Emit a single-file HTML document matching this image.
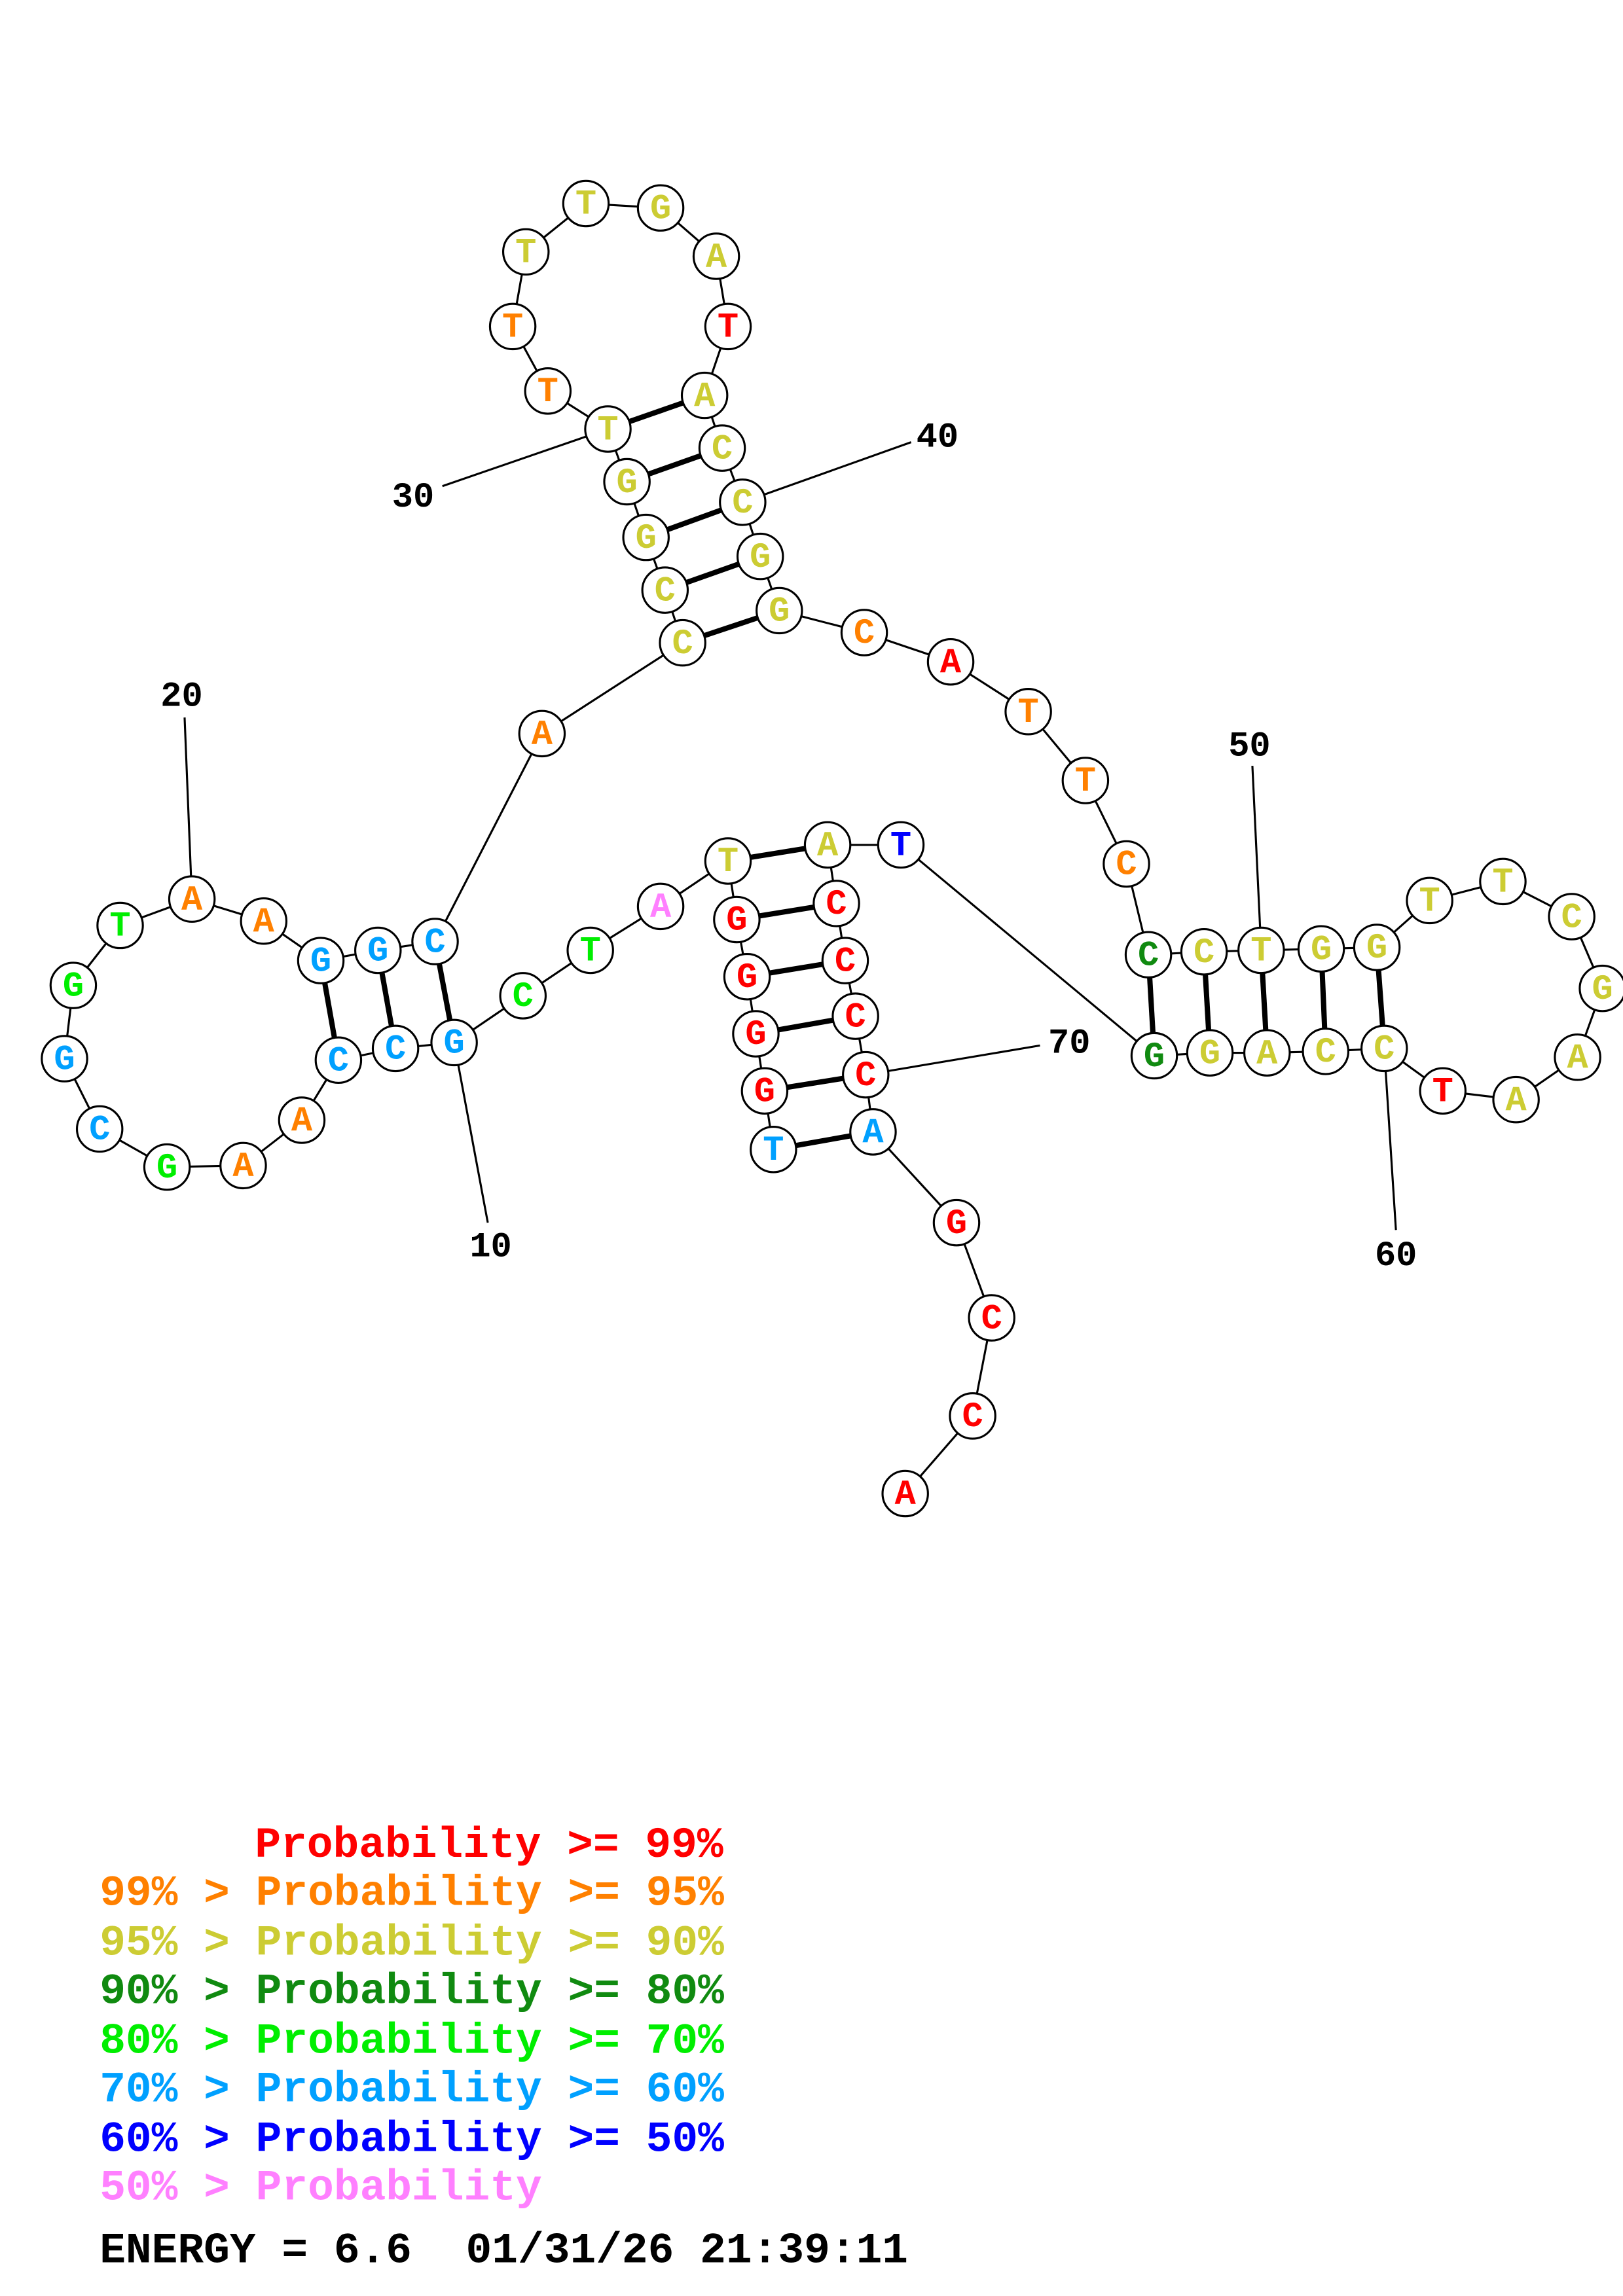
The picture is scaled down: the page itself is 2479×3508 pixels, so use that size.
<!DOCTYPE html>
<html><head><meta charset="utf-8"><style>
html,body{margin:0;padding:0;background:#fff}
svg{display:block}
.n text{font-family:"Liberation Mono",monospace;font-weight:bold;font-size:24px;text-anchor:middle;dominant-baseline:central}
.lab{font-family:"Liberation Mono",monospace;font-weight:bold;font-size:24px;text-anchor:middle;dominant-baseline:central;fill:#000}
.leg{font-family:"Liberation Mono",monospace;font-weight:bold;font-size:29.6px;white-space:pre}
</style></head><body>
<svg width="2479" height="3508" viewBox="0 0 1108 1568" xmlns="http://www.w3.org/2000/svg">
<g stroke="#000" stroke-width="1.4" fill="none">
<polyline points="528,785 522,745 516,706 510,667 503,628 497,588 451,619 403,649 357,680 310,712 270,716 231,724 206,765 166,796 114,797 68,771 44,723 50,673 82,632 131,614 180,629 219,656 258,649 297,643 370,501 466,439 454,403 441,367 428,329 415,293 374,267 350,223 359,172 400,139 451,142 489,175 497,223 481,270 493,306 507,343 519,380 532,417 590,432 649,452 702,486 741,533 769,590 784,652 822,650 861,649 902,648 940,647 976,615 1026,602 1073,626 1094,675 1077,722 1035,751 985,745 945,716 905,718 865,719 826,719 788,721 615,577 565,577 571,617 577,656 584,694 591,734 596,773 653,835 677,900 664,967 618,1020"/>
<line x1="310" y1="712" x2="333" y2="835"/>
<line x1="131" y1="614" x2="126" y2="490"/>
<line x1="415" y1="293" x2="302" y2="332"/>
<line x1="507" y1="343" x2="622" y2="302"/>
<line x1="861" y1="649" x2="855" y2="523"/>
<line x1="945" y1="716" x2="953" y2="840"/>
<line x1="591" y1="734" x2="710" y2="714"/>
</g>
<g stroke="#000" stroke-width="3.6">
<line x1="528" y1="785" x2="596" y2="773"/><line x1="522" y1="745" x2="591" y2="734"/><line x1="516" y1="706" x2="584" y2="694"/><line x1="510" y1="667" x2="577" y2="656"/><line x1="503" y1="628" x2="571" y2="617"/><line x1="497" y1="588" x2="565" y2="577"/>
<line x1="310" y1="712" x2="297" y2="643"/><line x1="270" y1="716" x2="258" y2="649"/><line x1="231" y1="724" x2="219" y2="656"/>
<line x1="466" y1="439" x2="532" y2="417"/><line x1="454" y1="403" x2="519" y2="380"/><line x1="441" y1="367" x2="507" y2="343"/><line x1="428" y1="329" x2="493" y2="306"/><line x1="415" y1="293" x2="481" y2="270"/>
<line x1="784" y1="652" x2="788" y2="721"/><line x1="822" y1="650" x2="826" y2="719"/><line x1="861" y1="649" x2="865" y2="719"/><line x1="902" y1="648" x2="905" y2="718"/><line x1="940" y1="647" x2="945" y2="716"/>
</g>
<g class="n">
<g stroke="#000" stroke-width="1.4" fill="#fff">
<circle cx="528" cy="785" r="15.5"/><circle cx="522" cy="745" r="15.5"/><circle cx="516" cy="706" r="15.5"/><circle cx="510" cy="667" r="15.5"/><circle cx="503" cy="628" r="15.5"/><circle cx="497" cy="588" r="15.5"/><circle cx="451" cy="619" r="15.5"/><circle cx="403" cy="649" r="15.5"/><circle cx="357" cy="680" r="15.5"/><circle cx="310" cy="712" r="15.5"/><circle cx="270" cy="716" r="15.5"/><circle cx="231" cy="724" r="15.5"/><circle cx="206" cy="765" r="15.5"/><circle cx="166" cy="796" r="15.5"/><circle cx="114" cy="797" r="15.5"/><circle cx="68" cy="771" r="15.5"/><circle cx="44" cy="723" r="15.5"/><circle cx="50" cy="673" r="15.5"/><circle cx="82" cy="632" r="15.5"/><circle cx="131" cy="614" r="15.5"/><circle cx="180" cy="629" r="15.5"/><circle cx="219" cy="656" r="15.5"/><circle cx="258" cy="649" r="15.5"/><circle cx="297" cy="643" r="15.5"/><circle cx="370" cy="501" r="15.5"/><circle cx="466" cy="439" r="15.5"/><circle cx="454" cy="403" r="15.5"/><circle cx="441" cy="367" r="15.5"/><circle cx="428" cy="329" r="15.5"/><circle cx="415" cy="293" r="15.5"/><circle cx="374" cy="267" r="15.5"/><circle cx="350" cy="223" r="15.5"/><circle cx="359" cy="172" r="15.5"/><circle cx="400" cy="139" r="15.5"/><circle cx="451" cy="142" r="15.5"/><circle cx="489" cy="175" r="15.5"/><circle cx="497" cy="223" r="15.5"/><circle cx="481" cy="270" r="15.5"/><circle cx="493" cy="306" r="15.5"/><circle cx="507" cy="343" r="15.5"/><circle cx="519" cy="380" r="15.5"/><circle cx="532" cy="417" r="15.5"/><circle cx="590" cy="432" r="15.5"/><circle cx="649" cy="452" r="15.5"/><circle cx="702" cy="486" r="15.5"/><circle cx="741" cy="533" r="15.5"/><circle cx="769" cy="590" r="15.5"/><circle cx="784" cy="652" r="15.5"/><circle cx="822" cy="650" r="15.5"/><circle cx="861" cy="649" r="15.5"/><circle cx="902" cy="648" r="15.5"/><circle cx="940" cy="647" r="15.5"/><circle cx="976" cy="615" r="15.5"/><circle cx="1026" cy="602" r="15.5"/><circle cx="1073" cy="626" r="15.5"/><circle cx="1094" cy="675" r="15.5"/><circle cx="1077" cy="722" r="15.5"/><circle cx="1035" cy="751" r="15.5"/><circle cx="985" cy="745" r="15.5"/><circle cx="945" cy="716" r="15.5"/><circle cx="905" cy="718" r="15.5"/><circle cx="865" cy="719" r="15.5"/><circle cx="826" cy="719" r="15.5"/><circle cx="788" cy="721" r="15.5"/><circle cx="615" cy="577" r="15.5"/><circle cx="565" cy="577" r="15.5"/><circle cx="571" cy="617" r="15.5"/><circle cx="577" cy="656" r="15.5"/><circle cx="584" cy="694" r="15.5"/><circle cx="591" cy="734" r="15.5"/><circle cx="596" cy="773" r="15.5"/><circle cx="653" cy="835" r="15.5"/><circle cx="677" cy="900" r="15.5"/><circle cx="664" cy="967" r="15.5"/><circle cx="618" cy="1020" r="15.5"/>
</g>
<text x="528" y="786" fill="#00a0ff">T</text><text x="522" y="746" fill="#ff0000">G</text><text x="516" y="707" fill="#ff0000">G</text><text x="510" y="668" fill="#ff0000">G</text><text x="503" y="629" fill="#ff0000">G</text><text x="497" y="589" fill="#cccc33">T</text><text x="451" y="620" fill="#ff80ff">A</text><text x="403" y="650" fill="#00ee00">T</text><text x="357" y="681" fill="#00ee00">C</text><text x="310" y="713" fill="#00a0ff">G</text><text x="270" y="717" fill="#00a0ff">C</text><text x="231" y="725" fill="#00a0ff">C</text><text x="206" y="766" fill="#ff8000">A</text><text x="166" y="797" fill="#ff8000">A</text><text x="114" y="798" fill="#00ee00">G</text><text x="68" y="772" fill="#00a0ff">C</text><text x="44" y="724" fill="#00a0ff">G</text><text x="50" y="674" fill="#00ee00">G</text><text x="82" y="633" fill="#00ee00">T</text><text x="131" y="615" fill="#ff8000">A</text><text x="180" y="630" fill="#ff8000">A</text><text x="219" y="657" fill="#00a0ff">G</text><text x="258" y="650" fill="#00a0ff">G</text><text x="297" y="644" fill="#00a0ff">C</text><text x="370" y="502" fill="#ff8000">A</text><text x="466" y="440" fill="#cccc33">C</text><text x="454" y="404" fill="#cccc33">C</text><text x="441" y="368" fill="#cccc33">G</text><text x="428" y="330" fill="#cccc33">G</text><text x="415" y="294" fill="#cccc33">T</text><text x="374" y="268" fill="#ff8000">T</text><text x="350" y="224" fill="#ff8000">T</text><text x="359" y="173" fill="#cccc33">T</text><text x="400" y="140" fill="#cccc33">T</text><text x="451" y="143" fill="#cccc33">G</text><text x="489" y="176" fill="#cccc33">A</text><text x="497" y="224" fill="#ff0000">T</text><text x="481" y="271" fill="#cccc33">A</text><text x="493" y="307" fill="#cccc33">C</text><text x="507" y="344" fill="#cccc33">C</text><text x="519" y="381" fill="#cccc33">G</text><text x="532" y="418" fill="#cccc33">G</text><text x="590" y="433" fill="#ff8000">C</text><text x="649" y="453" fill="#ff0000">A</text><text x="702" y="487" fill="#ff8000">T</text><text x="741" y="534" fill="#ff8000">T</text><text x="769" y="591" fill="#ff8000">C</text><text x="784" y="653" fill="#108a10">C</text><text x="822" y="651" fill="#cccc33">C</text><text x="861" y="650" fill="#cccc33">T</text><text x="902" y="649" fill="#cccc33">G</text><text x="940" y="648" fill="#cccc33">G</text><text x="976" y="616" fill="#cccc33">T</text><text x="1026" y="603" fill="#cccc33">T</text><text x="1073" y="627" fill="#cccc33">C</text><text x="1094" y="676" fill="#cccc33">G</text><text x="1077" y="723" fill="#cccc33">A</text><text x="1035" y="752" fill="#cccc33">A</text><text x="985" y="746" fill="#ff0000">T</text><text x="945" y="717" fill="#cccc33">C</text><text x="905" y="719" fill="#cccc33">C</text><text x="865" y="720" fill="#cccc33">A</text><text x="826" y="720" fill="#cccc33">G</text><text x="788" y="722" fill="#108a10">G</text><text x="615" y="578" fill="#0000ff">T</text><text x="565" y="578" fill="#cccc33">A</text><text x="571" y="618" fill="#ff0000">C</text><text x="577" y="657" fill="#ff0000">C</text><text x="584" y="695" fill="#ff0000">C</text><text x="591" y="735" fill="#ff0000">C</text><text x="596" y="774" fill="#00a0ff">A</text><text x="653" y="836" fill="#ff0000">G</text><text x="677" y="901" fill="#ff0000">C</text><text x="664" y="968" fill="#ff0000">C</text><text x="618" y="1021" fill="#ff0000">A</text>
</g>
<text class="lab" x="335" y="852">10</text><text class="lab" x="124" y="476">20</text><text class="lab" x="282" y="340">30</text><text class="lab" x="640" y="299">40</text><text class="lab" x="853" y="510">50</text><text class="lab" x="953" y="858">60</text><text class="lab" x="730" y="713">70</text>
<g class="leg">
<text x="174" y="1268" fill="#ff0000">Probability &gt;= 99%</text>
<text x="68" y="1301" fill="#ff8000">99% &gt; Probability &gt;= 95%</text>
<text x="68" y="1335" fill="#cccc33">95% &gt; Probability &gt;= 90%</text>
<text x="68" y="1368" fill="#108a10">90% &gt; Probability &gt;= 80%</text>
<text x="68" y="1402" fill="#00ee00">80% &gt; Probability &gt;= 70%</text>
<text x="68" y="1435" fill="#00a0ff">70% &gt; Probability &gt;= 60%</text>
<text x="68" y="1469" fill="#0000ff">60% &gt; Probability &gt;= 50%</text>
<text x="68" y="1502" fill="#ff80ff">50% &gt; Probability</text>
<text x="68" y="1545" fill="#000">ENERGY = 6.6</text>
<text x="318" y="1545" fill="#000">01/31/26 21:39:11</text>
</g>
</svg>
</body></html>
